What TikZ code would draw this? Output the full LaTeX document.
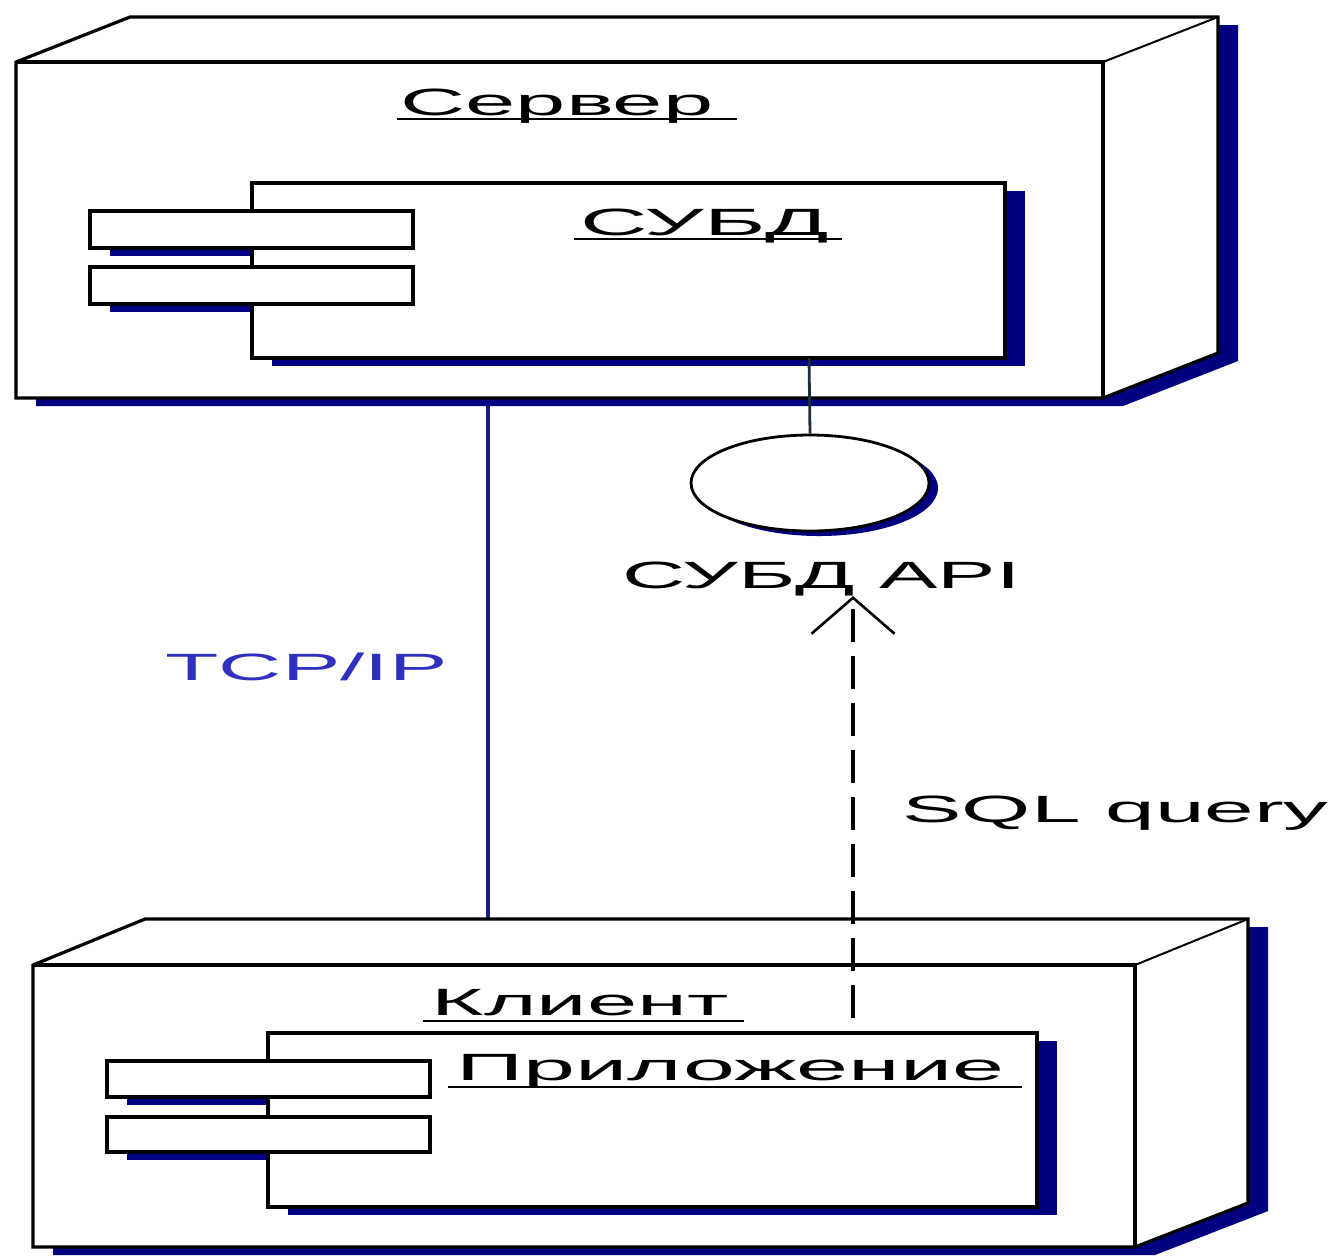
\documentclass[tikz,border=0pt]{standalone}
\usepackage{fontspec}
\setmainfont{Liberation Sans}
\usepackage{graphicx}
\usetikzlibrary{shapes.geometric,arrows.meta}
\definecolor{shadowc}{RGB}{0,0,128}
\definecolor{tcpline}{RGB}{28,28,140}
\definecolor{tcptext}{RGB}{48,48,192}
\definecolor{stemc}{RGB}{30,45,60}
\newcommand\wtxt[2]{\resizebox{#1}{\height}{#2}}
\begin{document}
\begin{tikzpicture}[x=0.5pt,y=-0.5pt,
  outline/.style={draw=black, line width=1.6pt, fill=white, line join=miter},
  edge3d/.style={draw=black, line width=1pt},
  shade/.style={fill=shadowc},
  lbl/.style={inner sep=0pt, anchor=base west, font=\fontsize{19}{22}\selectfont},
  uline/.style={draw=black, line width=1pt},
  tcp/.style={draw=tcpline, line width=2pt},
  stem/.style={draw=stemc, line width=1.4pt},
  iface/.style={ellipse, draw=black, line width=1.4pt, fill=white, inner sep=0pt, minimum width=119pt, minimum height=48pt},
  ifaceshadow/.style={ellipse, fill=shadowc, inner sep=0pt, minimum width=119pt, minimum height=48pt},
  sqlarrow/.style={draw=black, line width=2pt, dash pattern=on 16.5pt off 7pt,
     -{Straight Barb[length=18pt, width=41.5pt, line width=1.3pt]}}
]
\useasboundingbox[fill=white] (0,0) rectangle (1336,1255);

% ---------- TCP/IP link ----------
\coordinate (srvbase) at (488,398);
\coordinate (clitop) at (488,919);
\draw[tcp] (srvbase) -- (clitop);

% ---------- Server node ----------
\begin{scope}[shift={(20,8)}]
  \fill[shade] (16,62) -- (130,17) -- (1218,17) -- (1218,353) -- (1103,398) -- (16,398) -- cycle;
\end{scope}
\filldraw[outline] (16,62) -- (130,17) -- (1218,17) -- (1218,353) -- (1103,398) -- (16,398) -- cycle;
\draw[edge3d] (16,62) -- (1103,62) -- (1218,17);
\draw[outline, fill=none] (16,62) -- (1103,62) -- (1103,398);

\node[lbl] (srvname) at (400,115) {\wtxt{156.5pt}{Сервер}};
\draw[uline] (397,119) -- (737,119);

% DBMS component
\fill[shade] (110,219) rectangle (433,256);
\fill[shade] (110,275) rectangle (433,312);
\fill[shade] (272,191) rectangle (1025,366);
\filldraw[outline] (252,183) rectangle (1005,358);
\filldraw[outline] (90,211) rectangle (413,248);
\filldraw[outline] (90,267) rectangle (413,304);
\node[lbl] (dbmsname) at (580,235) {\wtxt{124.5pt}{СУБД}};
\draw[uline] (574,239) -- (842,239);

% ---------- Interface ----------
\coordinate (dbmsbot) at (809,358);
\node[ifaceshadow] (apishadow) at (819,488) {};
\node[iface] (api) at (810,483) {};
\draw[stem] (dbmsbot) -- (api.north);
\node[lbl] (apiname) at (622,588) {\wtxt{199pt}{СУБД API}};

% ---------- Labels on links ----------
\node[lbl, text=tcptext] (tcpname) at (165,680) {\wtxt{141pt}{TCP/IP}};
\node[lbl] (sqlname) at (902,822) {\wtxt{213pt}{SQL query}};

% ---------- Client node ----------
\begin{scope}[shift={(20,8)}]
  \fill[shade] (33,965) -- (145,919) -- (1248,919) -- (1248,1203) -- (1135,1247) -- (33,1247) -- cycle;
\end{scope}
\filldraw[outline] (33,965) -- (145,919) -- (1248,919) -- (1248,1203) -- (1135,1247) -- (33,1247) -- cycle;
\draw[edge3d] (33,965) -- (1135,965) -- (1248,919);
\draw[outline, fill=none] (33,965) -- (1135,965) -- (1135,1247);

\node[lbl] (cliname) at (431,1015) {\wtxt{148.5pt}{Клиент}};
\draw[uline] (423,1021) -- (744,1021);

% Application component
\fill[shade] (127,1069) rectangle (450,1105);
\fill[shade] (127,1125) rectangle (450,1160);
\fill[shade] (288,1041) rectangle (1057,1215);
\filldraw[outline] (268,1033) rectangle (1037,1207);
\filldraw[outline] (107,1061) rectangle (430,1097);
\filldraw[outline] (107,1117) rectangle (430,1152);
\node[lbl] (appname) at (456,1080) {\wtxt{274pt}{Приложение}};
\draw[uline] (448,1087) -- (1022,1087);

% ---------- SQL dependency ----------
\coordinate (appin) at (853,1018);
\coordinate (apitip) at (853,596);
\draw[sqlarrow] (appin) -- (apitip);

\end{tikzpicture}
\end{document}
